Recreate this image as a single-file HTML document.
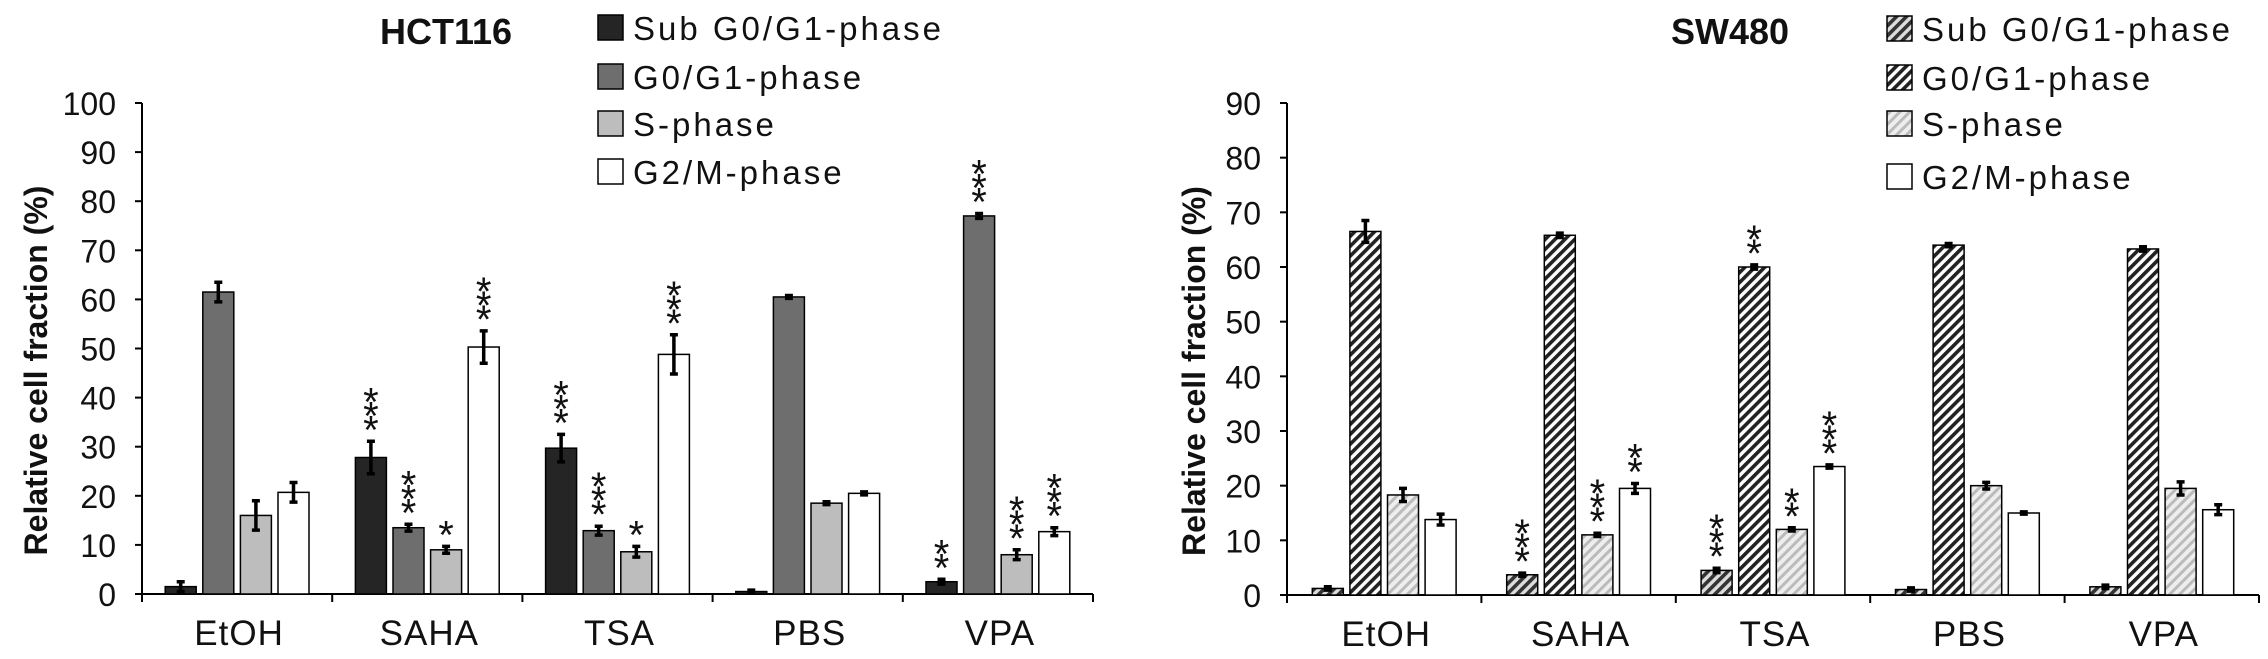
<!DOCTYPE html>
<html><head><meta charset="utf-8"><style>
body{margin:0;background:#fff;}
svg{display:block;font-family:"Liberation Sans",Arial,sans-serif;}
</style></head><body>
<svg id="fig" width="2268" height="659" xmlns="http://www.w3.org/2000/svg">
<defs>
<pattern id="hatchDark" patternUnits="userSpaceOnUse" width="7" height="7" patternTransform="rotate(45)">
<rect width="7" height="7" fill="#fff"/><rect width="3.6" height="7" fill="#222"/></pattern>
<pattern id="hatchLight" patternUnits="userSpaceOnUse" width="7" height="7" patternTransform="rotate(45)">
<rect width="7" height="7" fill="#eee"/><rect width="3" height="7" fill="#bbb"/></pattern>
<pattern id="hatchMid" patternUnits="userSpaceOnUse" width="7" height="7" patternTransform="rotate(45)">
<rect width="7" height="7" fill="#ddd"/><rect width="3.6" height="7" fill="#333"/></pattern>
</defs>
</svg>
<script>
const categories=["EtOH","SAHA","TSA","PBS","VPA"];
const seriesNames=["Sub G0/G1-phase","G0/G1-phase","S-phase","G2/M-phase"];
// HCT116
const hctSub=[1.5,27.8,29.7,0.5,2.5];
const hctG1=[61.5,13.5,12.9,60.5,77];
const hctS=[16,9,8.6,18.5,8];
const hctG2=[20.7,50.3,48.8,20.5,12.7];
const hctSubErr=[1,3.3,2.8,0.3,0.5];
const hctG1Err=[2,0.7,0.9,0.3,0.5];
const hctSErr=[3,0.7,1.1,0.3,1];
const hctG2Err=[2,3.3,4,0.3,0.8];
const hctSubStars=["","***","***","","**"];
const hctG1Stars=["","***","***","","***"];
const hctSStars=["","*","*","","***"];
const hctG2Stars=["","***","***","","***"];
const hctTicks=[0,10,20,30,40,50,60,70,80,90,100];
// SW480
const swSub=[1.2,3.7,4.5,1,1.5];
const swG1=[66.5,65.8,60,64,63.3];
const swS=[18.3,11,12,20,19.5];
const swG2=[13.8,19.5,23.5,15,15.6];
const swSubErr=[0.3,0.3,0.4,0.3,0.3];
const swG1Err=[2,0.4,0.4,0.3,0.4];
const swSErr=[1.2,0.3,0.3,0.6,1.2];
const swG2Err=[1,0.9,0.3,0.2,0.9];
const swSubStars=["","***","***","",""];
const swG1Stars=["","","**","",""];
const swSStars=["","***","**","",""];
const swG2Stars=["","**","***","",""];
const swTicks=[0,10,20,30,40,50,60,70,80,90];

const NS="http://www.w3.org/2000/svg";
const svg=document.getElementById('fig');
function mk(tag,attrs,parent){const e=document.createElementNS(NS,tag);for(const k in attrs)e.setAttribute(k,attrs[k]);(parent||svg).appendChild(e);return e;}

function chart(cfg){
  const g=mk('g',{});
  
  
  const y=v=>cfg.y0-(v/cfg.ymax)*(cfg.y0-cfg.ytop);
  const catW=(cfg.xend-cfg.x0)/categories.length;
  const ya=mk('line',{x1:cfg.x0,y1:cfg.ytop,x2:cfg.x0,y2:cfg.y0+1,stroke:'#000','stroke-width':2},g);
  
  const xa=mk('line',{x1:cfg.x0,y1:cfg.y0,x2:cfg.xend,y2:cfg.y0,stroke:'#000','stroke-width':2},g);
  
  cfg.ticks.forEach(t=>{
    mk('line',{x1:cfg.x0-7,y1:y(t),x2:cfg.x0,y2:y(t),stroke:'#000','stroke-width':2},g);
    const tl=mk('text',{x:cfg.x0-26,y:y(t)+12,'text-anchor':'end','font-size':32,fill:'#111'},g);
    tl.textContent=t;
    
  });
  for(let i=0;i<=categories.length;i++){
    mk('line',{x1:cfg.x0+i*catW,y1:cfg.y0,x2:cfg.x0+i*catW,y2:cfg.y0+8,stroke:'#000','stroke-width':2},g);
  }
  categories.forEach((c,i)=>{
    const t=mk('text',{x:cfg.x0+(i+0.5)*catW+2,y:cfg.y0+51,'text-anchor':'middle','font-size':35,'letter-spacing':1,fill:'#111'},g);
    t.textContent=c;
    
  });
  const yt=mk('text',{x:0,y:0,'text-anchor':'middle','font-size':32,'font-weight':'bold',fill:'#111',transform:`translate(${cfg.ytx},${(cfg.ytop+cfg.y0)/2+22}) rotate(-90)`},g);
  yt.textContent='Relative cell fraction (%)';
  
  const tt=mk('text',{x:cfg.titleX,y:44,'text-anchor':'middle','font-size':36,'font-weight':'bold',fill:'#111'},g);
  tt.textContent=cfg.title;
  
  const barW=31, step=37.6;
  cfg.series.forEach((s,si)=>{
    s.vals.forEach((v,ci)=>{
      const bx=cfg.x0+ci*catW+catW/2-2*step+si*step+(step-barW)/2;
      const r=mk('rect',{x:bx,y:y(v),width:barW,height:cfg.y0-y(v),fill:cfg.fills[si],stroke:'#000','stroke-width':1.5},g);
      
      
      const cx=bx+barW/2, e=s.err[ci];
      const eb=mk('path',{d:`M${cx},${y(v+e)}V${y(v-e)}M${cx-4},${y(v+e)}H${cx+4}M${cx-4},${y(v-e)}H${cx+4}`,stroke:'#000','stroke-width':3.5,fill:'none'},g);
      
      const st=s.stars[ci];
      for(let k=0;k<st.length;k++){
        const a=mk('text',{x:cx,y:y(v+e)+2-k*14,'text-anchor':'middle','font-size':40,fill:'#111'},g);
        a.textContent='*';
        
      }
    });
  });
  seriesNames.forEach((n,i)=>{
    const ly=cfg.legY[i];
    const b=mk('rect',{x:cfg.legX,y:ly-13,width:25,height:25,fill:cfg.fills[i],stroke:'#000','stroke-width':1.5},g);
    
    const t=mk('text',{x:cfg.legX+35,y:ly+12,'font-size':33,'letter-spacing':3,fill:'#111'},g);
    t.textContent=n;
    
  });
}
chart({name:'hct116-chart',title:'HCT116',titleX:446,x0:142,xend:1093,y0:594,ytop:103,ymax:100,ticks:hctTicks,ytx:47,
  fills:['#252525','#6e6e6e','#bdbdbd','#ffffff'],legX:598,legY:[28,77,124,172],
  series:[{vals:hctSub,err:hctSubErr,stars:hctSubStars},{vals:hctG1,err:hctG1Err,stars:hctG1Stars},{vals:hctS,err:hctSErr,stars:hctSStars},{vals:hctG2,err:hctG2Err,stars:hctG2Stars}]});
chart({name:'sw480-chart',title:'SW480',titleX:1730,x0:1287,xend:2259,y0:595,ytop:103,ymax:90,ticks:swTicks,ytx:1205,
  fills:['url(#hatchMid)','url(#hatchDark)','url(#hatchLight)','#ffffff'],legX:1887,legY:[29,78,124,177],
  series:[{vals:swSub,err:swSubErr,stars:swSubStars},{vals:swG1,err:swG1Err,stars:swG1Stars},{vals:swS,err:swSErr,stars:swSStars},{vals:swG2,err:swG2Err,stars:swG2Stars}]});
</script>
</body></html>
